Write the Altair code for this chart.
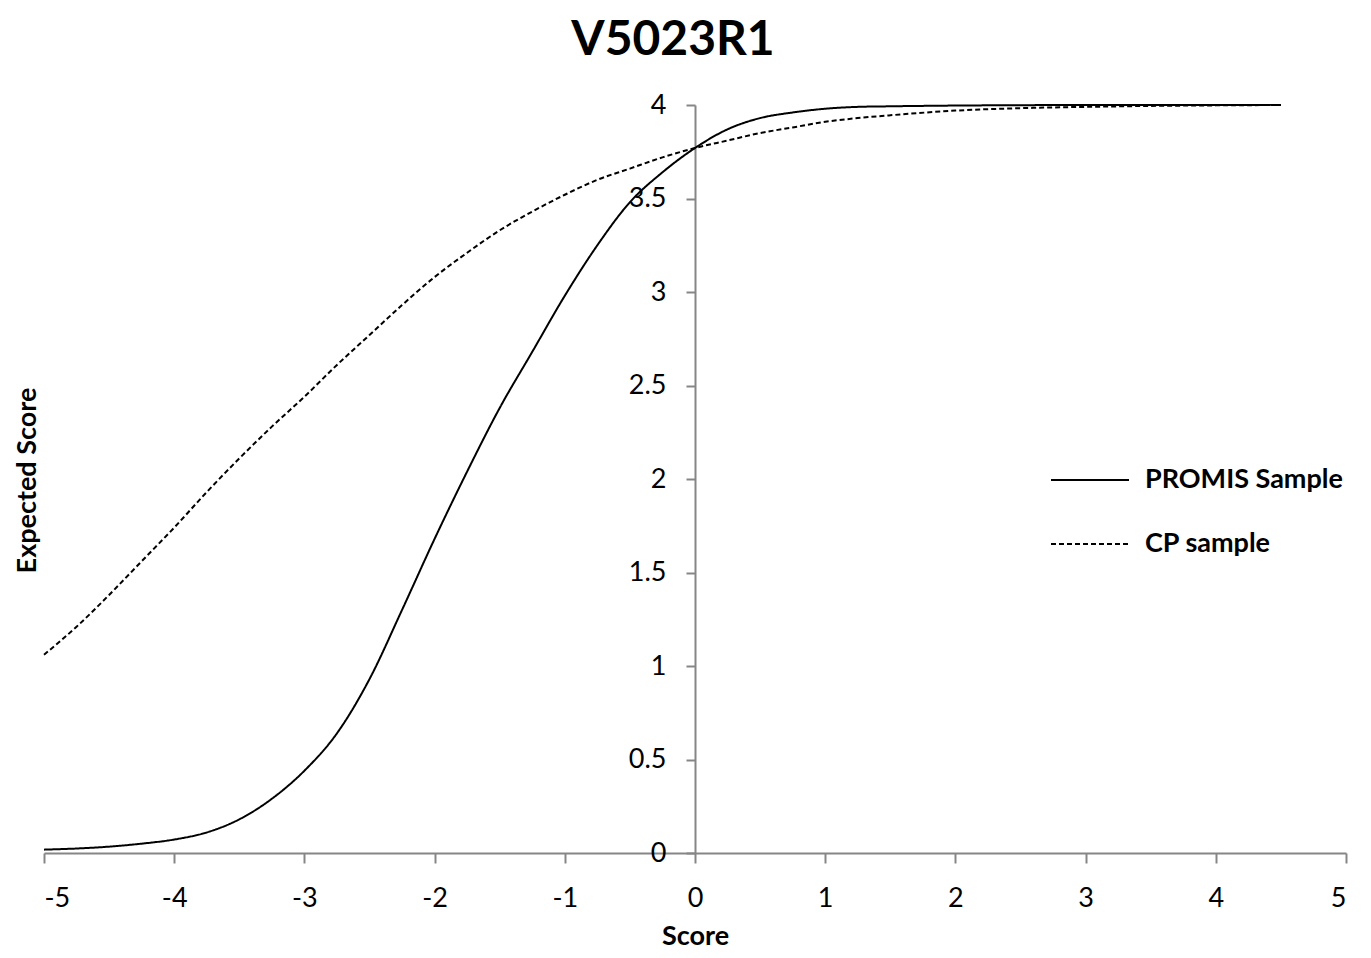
import altair as alt
import pandas as pd

scores = [-5, -4.75, -4.5, -4.25, -4, -3.75, -3.5, -3.25, -3, -2.75, -2.5, -2.25,
          -2, -1.75, -1.5, -1.25, -1, -0.75, -0.5, -0.25, 0, 0.25, 0.5, 0.75,
          1, 1.25, 1.5, 2, 2.5, 3, 3.5, 4, 4.5]

promis = [0.018, 0.024, 0.034, 0.05, 0.072, 0.11, 0.18, 0.29, 0.44, 0.64, 0.93, 1.30,
          1.68, 2.04, 2.38, 2.68, 2.98, 3.25, 3.48, 3.64, 3.77, 3.87, 3.93, 3.96,
          3.98, 3.99, 3.993, 3.997, 3.999, 4.0, 4.0, 4.0, 4.0]

cp = [1.06, 1.21, 1.38, 1.56, 1.74, 1.93, 2.11, 2.28, 2.44, 2.61, 2.77, 2.93,
      3.08, 3.21, 3.33, 3.43, 3.52, 3.60, 3.66, 3.72, 3.77, 3.81, 3.85, 3.88,
      3.91, 3.93, 3.945, 3.97, 3.983, 3.99, 3.995, 3.998, 4.0]

series_names = ["PROMIS Sample", "CP sample"]
x_ticks = [-5, -4, -3, -2, -1, 0, 1, 2, 3, 4, 5]
y_ticks = [0, 0.5, 1, 1.5, 2, 2.5, 3, 3.5, 4]

rows = []
for name, vals in zip(series_names, [promis, cp]):
    for x, y in zip(scores, vals):
        rows.append({"Score": x, "Expected": y, "Series": name})
df = pd.DataFrame(rows)

AX = "#868686"
W, H = 1302, 748

chart = alt.Chart(df).mark_line(color="black", strokeWidth=2, interpolate="monotone").encode(
    x=alt.X("Score:Q",
            scale=alt.Scale(domain=[-5, 5], nice=False, zero=False),
            axis=alt.Axis(values=x_ticks, title="Score", grid=False,
                          labelExpr="'' + datum.value",
                          domainColor=AX, domainWidth=2, tickColor=AX, tickWidth=2, tickSize=10,
                          labelFont="Lato", labelFontSize=27, labelColor="black", labelPadding=22,
                          titleFont="Lato", titleFontSize=27, titleFontWeight="bold",
                          titleColor="black", titleBaseline="middle", titleY=83)),
    y=alt.Y("Expected:Q",
            scale=alt.Scale(domain=[0, 4], nice=False),
            axis=alt.Axis(values=y_ticks, title="Expected Score", grid=False, offset=-651,
                          labelExpr="'' + datum.value",
                          domainColor=AX, domainWidth=2, tickColor=AX, tickWidth=2, tickSize=9,
                          labelFont="Lato", labelFontSize=27, labelColor="black", labelPadding=20,
                          titleFont="Lato", titleFontSize=27, titleFontWeight="bold",
                          titleColor="black", titleBaseline="middle", titleAlign="center",
                          titleAngle=270, titleX=-668, titleY=375)),
    strokeDash=alt.StrokeDash("Series:N",
                              scale=alt.Scale(domain=series_names, range=[[1, 0], [5, 3]]),
                              legend=alt.Legend(orient="none", legendX=1006, legendY=335,
                                                title=None, symbolType="stroke", symbolSize=6084,
                                                symbolStrokeWidth=2, symbolStrokeColor="black",
                                                labelFont="Lato", labelFontSize=27,
                                                labelFontWeight="bold", labelColor="black",
                                                labelOffset=15, rowPadding=11, padding=0,
                                                labelLimit=400)),
).properties(
    width=W, height=H,
    background="white",
    title=alt.Title("V5023R1", font="Lato", fontSize=48, fontWeight="bold", color="black",
                    anchor="middle", dx=-22, offset=26),
    autosize=alt.AutoSizeParams(type="none"),
    padding={"left": 36, "top": 97, "right": 17, "bottom": 97},
).configure_view(stroke=None)

chart.save("out.html", embed_options={"renderer": "svg", "actions": False})
